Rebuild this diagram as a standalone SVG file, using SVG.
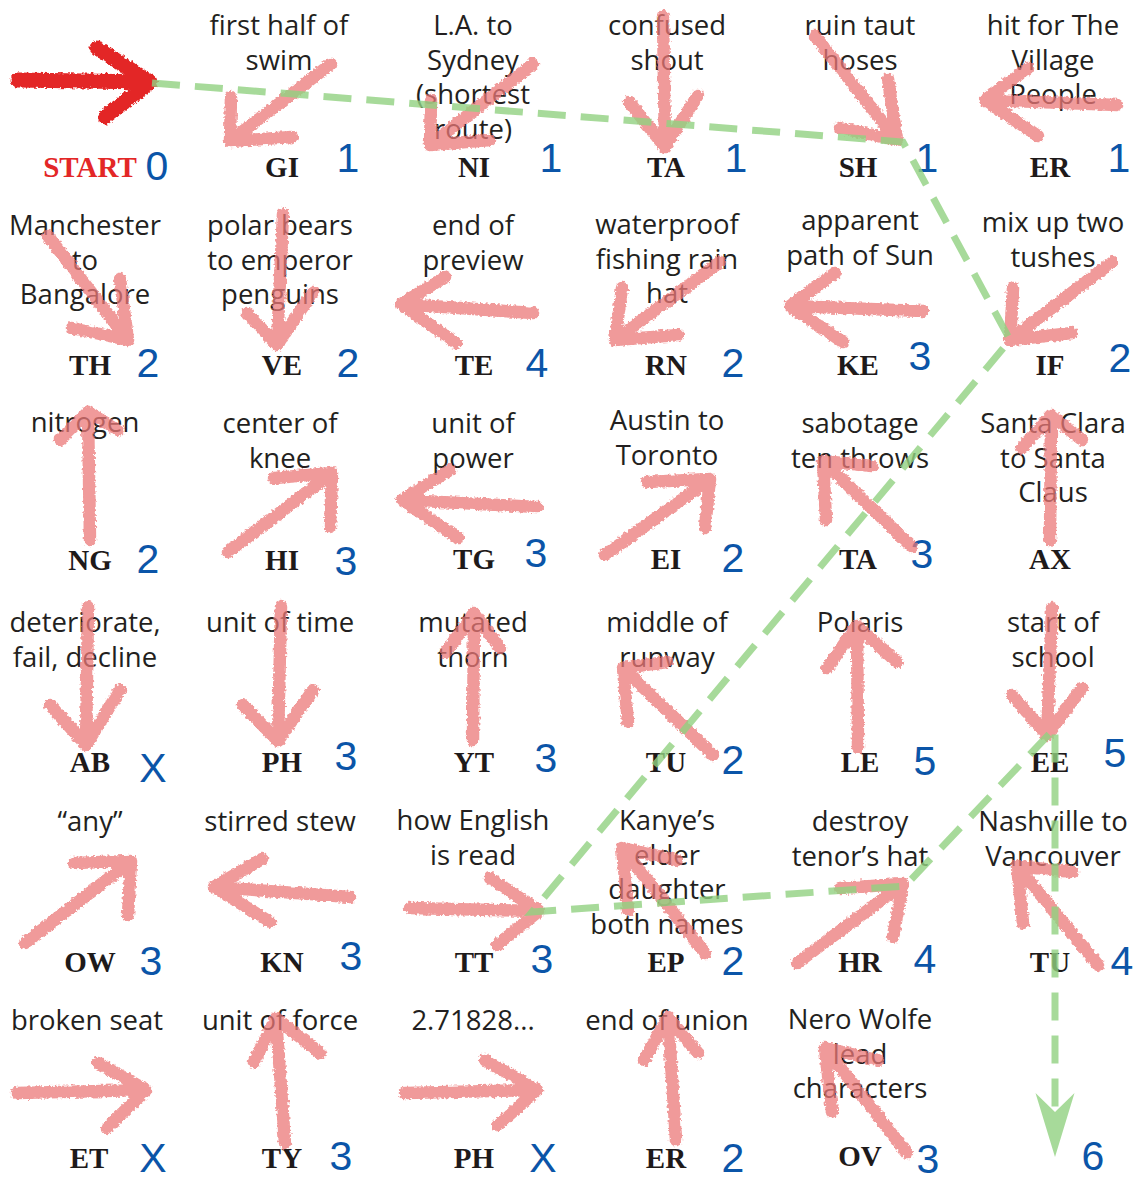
<svg xmlns="http://www.w3.org/2000/svg" width="1136" height="1180" viewBox="0 0 1136 1180">
<style>
.clue{font-family:"Open Sans","Noto Sans",sans-serif;font-size:27.5px;fill:#231f20;text-anchor:middle}
.code{font-family:"Liberation Serif",serif;font-weight:bold;font-size:29px;fill:#1e1a1a;text-anchor:middle}
.start{fill:#e32727}
.num{font-family:"Liberation Sans",Arial,sans-serif;font-size:41px;fill:#0b55a8;text-anchor:middle}
.ar{fill:none;stroke:#ec7878;stroke-width:12.5;stroke-linecap:round;stroke-linejoin:round;opacity:0.74;filter:url(#rough)}
.ar0{fill:none;stroke:#e32626;stroke-width:15;stroke-linecap:round;stroke-linejoin:round;filter:url(#rough)}
.route{fill:none;stroke:#92d281;stroke-width:7;stroke-dasharray:28 15;opacity:0.8}
</style>
<defs>
<filter id="rough" x="-20%" y="-20%" width="140%" height="140%">
<feTurbulence type="fractalNoise" baseFrequency="0.35" numOctaves="2" seed="3"/>
<feDisplacementMap in="SourceGraphic" scale="5" xChannelSelector="R" yChannelSelector="G"/>
</filter>
<marker id="gh" viewBox="0 0 64 40" refX="19" refY="20" markerWidth="64" markerHeight="40" markerUnits="userSpaceOnUse" orient="auto">
<path d="M0,0.5 L64,20 L0,39.5 L19,20 Z" fill="#92d281"/>
</marker>
</defs>
<rect width="1136" height="1180" fill="#ffffff"/>

<!-- Row 1 -->
<g id="n-start"><text class="code start" x="90" y="177">START</text><text class="num" x="157" y="180">0</text><path class="ar0" d="M18,80 L150,82 M97,48 L150,82 L105,117"/></g>
<g id="n-gi"><text class="clue" x="279" y="35">first half of</text><text class="clue" x="279" y="69.5">swim</text><text class="code" x="282" y="177">GI</text><text class="num" x="348" y="172">1</text><path class="ar" d="M331,64 L230,141 M231,97 L230,141 L292,137"/></g>
<g id="n-ni"><text class="clue" x="473" y="35">L.A. to</text><text class="clue" x="473" y="69.5">Sydney</text><text class="clue" x="473" y="104">(shortest</text><text class="clue" x="473" y="138.5">route)</text><text class="code" x="474" y="177">NI</text><text class="num" x="551" y="172">1</text><path class="ar" d="M533,64 L430,145 M431,100 L430,145 L490,140"/></g>
<g id="n-ta1"><text class="clue" x="667" y="35">confused</text><text class="clue" x="667" y="69.5">shout</text><text class="code" x="666" y="177">TA</text><text class="num" x="736" y="172">1</text><path class="ar" d="M663,16 L665,147 M629,102 L665,147 L698,95"/></g>
<g id="n-sh"><text class="clue" x="860" y="35">ruin taut</text><text class="clue" x="860" y="69.5">hoses</text><text class="code" x="858" y="177">SH</text><text class="num" x="927" y="172">1</text><path class="ar" d="M815,36 L897,140 M888,79 L897,140 L840,128"/></g>
<g id="n-er1"><text class="clue" x="1053" y="35">hit for The</text><text class="clue" x="1053" y="69.5">Village</text><text class="clue" x="1053" y="104">People</text><text class="code" x="1050" y="177">ER</text><text class="num" x="1119" y="172">1</text><path class="ar" d="M1117,105 L985,100 M1028,68 L985,100 L1038,136"/></g>

<!-- Row 2 -->
<g id="n-th"><text class="clue" x="85" y="235">Manchester</text><text class="clue" x="85" y="269.5">to</text><text class="clue" x="85" y="304">Bangalore</text><text class="code" x="90" y="375">TH</text><text class="num" x="148" y="377">2</text><path class="ar" d="M48,236 L128,340 M120,279 L128,340 L72,328"/></g>
<g id="n-ve"><text class="clue" x="280" y="235">polar bears</text><text class="clue" x="280" y="269.5">to emperor</text><text class="clue" x="280" y="304">penguins</text><text class="code" x="282" y="375">VE</text><text class="num" x="348" y="377">2</text><path class="ar" d="M283,214 L277,345 M247,313 L277,345 L313,292"/></g>
<g id="n-te"><text class="clue" x="473" y="235">end of</text><text class="clue" x="473" y="269.5">preview</text><text class="code" x="474" y="375">TE</text><text class="num" x="537" y="377">4</text><path class="ar" d="M533,313 L401,304 M445,277 L401,304 L456,343"/></g>
<g id="n-rn"><text class="clue" x="667" y="234">waterproof</text><text class="clue" x="667" y="268.5">fishing rain</text><text class="clue" x="667" y="303">hat</text><text class="code" x="666" y="375">RN</text><text class="num" x="733" y="377">2</text><path class="ar" d="M720,262 L615,340 M622,288 L615,340 L678,335"/></g>
<g id="n-ke"><text class="clue" x="860" y="230">apparent</text><text class="clue" x="860" y="264.5">path of Sun</text><text class="code" x="858" y="375">KE</text><text class="num" x="920" y="370">3</text><path class="ar" d="M923,311 L790,306 M835,273 L790,306 L843,342"/></g>
<g id="n-if"><text class="clue" x="1053" y="232">mix up two</text><text class="clue" x="1053" y="266.5">tushes</text><text class="code" x="1050" y="375">IF</text><text class="num" x="1120" y="372">2</text><path class="ar" d="M1112,262 L1010,340 M1013,288 L1010,340 L1072,333"/></g>

<!-- Row 3 -->
<g id="n-ng"><text class="clue" x="85" y="432">nitrogen</text><text class="code" x="90" y="570">NG</text><text class="num" x="148" y="573">2</text><path class="ar" d="M90,540 L88,412 M60,440 L88,412 L118,430"/></g>
<g id="n-hi"><text class="clue" x="280" y="433">center of</text><text class="clue" x="280" y="467.5">knee</text><text class="code" x="282" y="570">HI</text><text class="num" x="346" y="575">3</text><path class="ar" d="M228,552 L332,473 M274,478 L332,473 L330,527"/></g>
<g id="n-tg"><text class="clue" x="473" y="433">unit of</text><text class="clue" x="473" y="467.5">power</text><text class="code" x="474" y="569">TG</text><text class="num" x="536" y="567">3</text><path class="ar" d="M537,507 L402,500 M450,470 L402,500 L458,538"/></g>
<g id="n-ei"><text class="clue" x="667" y="430">Austin to</text><text class="clue" x="667" y="464.5">Toronto</text><text class="code" x="666" y="569">EI</text><text class="num" x="733" y="572">2</text><path class="ar" d="M605,555 L710,479 M647,482 L710,479 L705,528"/></g>
<g id="n-ta3"><text class="clue" x="860" y="433">sabotage</text><text class="clue" x="860" y="467.5">ten throws</text><text class="code" x="858" y="569">TA</text><text class="num" x="922" y="568">3</text><path class="ar" d="M912,547 L823,461 M872,466 L823,461 L826,520"/></g>
<g id="n-ax"><text class="clue" x="1053" y="433">Santa Clara</text><text class="clue" x="1053" y="467.5">to Santa</text><text class="clue" x="1053" y="502">Claus</text><text class="code" x="1050" y="569">AX</text><path class="ar" d="M1050,540 L1051,415 M1022,448 L1051,415 L1082,440"/></g>

<!-- Row 4 -->
<g id="n-ab"><text class="clue" x="85" y="632">deteriorate,</text><text class="clue" x="85" y="666.5">fail, decline</text><text class="code" x="90" y="772">AB</text><text class="num" x="153" y="782">X</text><path class="ar" d="M88,607 L86,745 M50,705 L86,745 L120,690"/></g>
<g id="n-ph4"><text class="clue" x="280" y="632">unit of time</text><text class="code" x="282" y="772">PH</text><text class="num" x="346" y="770">3</text><path class="ar" d="M281,606 L278,741 M243,705 L278,741 L313,690"/></g>
<g id="n-yt"><text class="clue" x="473" y="632">mutated</text><text class="clue" x="473" y="666.5">thorn</text><text class="code" x="474" y="772">YT</text><text class="num" x="546" y="772">3</text><path class="ar" d="M473,740 L474,613 M446,652 L474,613 L500,648"/></g>
<g id="n-tu4"><text class="clue" x="667" y="632">middle of</text><text class="clue" x="667" y="666.5">runway</text><text class="code" x="666" y="772">TU</text><text class="num" x="733" y="774">2</text><path class="ar" d="M713,755 L623,668 M667,662 L623,668 L628,722"/></g>
<g id="n-le"><text class="clue" x="860" y="632">Polaris</text><text class="code" x="860" y="772">LE</text><text class="num" x="925" y="775">5</text><path class="ar" d="M858,747 L857,626 M827,668 L857,626 L897,662"/></g>
<g id="n-ee"><text class="clue" x="1053" y="632">start of</text><text class="clue" x="1053" y="666.5">school</text><text class="code" x="1050" y="772">EE</text><text class="num" x="1115" y="767">5</text><path class="ar" d="M1052,608 L1047,735 M1012,695 L1047,735 L1082,688"/></g>

<!-- Row 5 -->
<g id="n-ow"><text class="clue" x="90" y="831">“any”</text><text class="code" x="90" y="972">OW</text><text class="num" x="151" y="975">3</text><path class="ar" d="M25,943 L131,861 M74,863 L131,861 L128,915"/></g>
<g id="n-kn"><text class="clue" x="280" y="831">stirred stew</text><text class="code" x="282" y="972">KN</text><text class="num" x="351" y="970">3</text><path class="ar" d="M350,897 L214,887 M262,859 L214,887 L270,922"/></g>
<g id="n-tt"><text class="clue" x="473" y="830">how English</text><text class="clue" x="473" y="864.5">is read</text><text class="code" x="474" y="972">TT</text><text class="num" x="542" y="973">3</text><path class="ar" d="M410,908 L539,911 M490,878 L539,911 L497,945"/></g>
<g id="n-ep"><text class="clue" x="667" y="830">Kanye’s</text><text class="clue" x="667" y="864.5">elder</text><text class="clue" x="667" y="899">daughter</text><text class="clue" x="667" y="933.5">both names</text><text class="code" x="666" y="972">EP</text><text class="num" x="733" y="975">2</text><path class="ar" d="M705,953 L622,848 M677,860 L622,848 L628,910"/></g>
<g id="n-hr"><text class="clue" x="860" y="831">destroy</text><text class="clue" x="860" y="865.5">tenor’s hat</text><text class="code" x="860" y="972">HR</text><text class="num" x="925" y="973">4</text><path class="ar" d="M797,963 L903,884 M840,888 L903,884 L893,937"/></g>
<g id="n-tu5"><text class="clue" x="1053" y="831">Nashville to</text><text class="clue" x="1053" y="865.5">Vancouver</text><text class="code" x="1050" y="972">TU</text><text class="num" x="1122" y="975">4</text><path class="ar" d="M1098,965 L1017,866 M1073,872 L1017,866 L1023,923"/></g>

<!-- Row 6 -->
<g id="n-et"><text class="clue" x="87" y="1030">broken seat</text><text class="code" x="89" y="1168">ET</text><text class="num" x="153" y="1172">X</text><path class="ar" d="M17,1093 L146,1090 M98,1063 L146,1090 L107,1128"/></g>
<g id="n-ty"><text class="clue" x="280" y="1030">unit of force</text><text class="code" x="282" y="1168">TY</text><text class="num" x="341" y="1170">3</text><path class="ar" d="M285,1143 L276,1018 M254,1062 L276,1018 L320,1053"/></g>
<g id="n-ph6"><text class="clue" x="473" y="1030">2.71828...</text><text class="code" x="474" y="1168">PH</text><text class="num" x="543" y="1172">X</text><path class="ar" d="M405,1093 L537,1090 M485,1060 L537,1090 L498,1125"/></g>
<g id="n-er6"><text class="clue" x="667" y="1030">end of union</text><text class="code" x="666" y="1168">ER</text><text class="num" x="733" y="1172">2</text><path class="ar" d="M676,1140 L668,1017 M644,1060 L668,1017 L698,1053"/></g>
<g id="n-ov"><text class="clue" x="860" y="1029">Nero Wolfe</text><text class="clue" x="860" y="1063.5">lead</text><text class="clue" x="860" y="1098">characters</text><text class="code" x="860" y="1166">OV</text><text class="num" x="928" y="1173">3</text><path class="ar" d="M907,1153 L825,1048 M878,1060 L825,1048 L832,1112"/></g>
<g id="n-end"><text class="num" x="1093" y="1170">6</text></g>

<g id="connectors">
<path class="route" d="M152,83 L903,142 L1010,340 L532,912 L905,886 L1055,728 L1055,1112" marker-end="url(#gh)"/>
</g>
</svg>
